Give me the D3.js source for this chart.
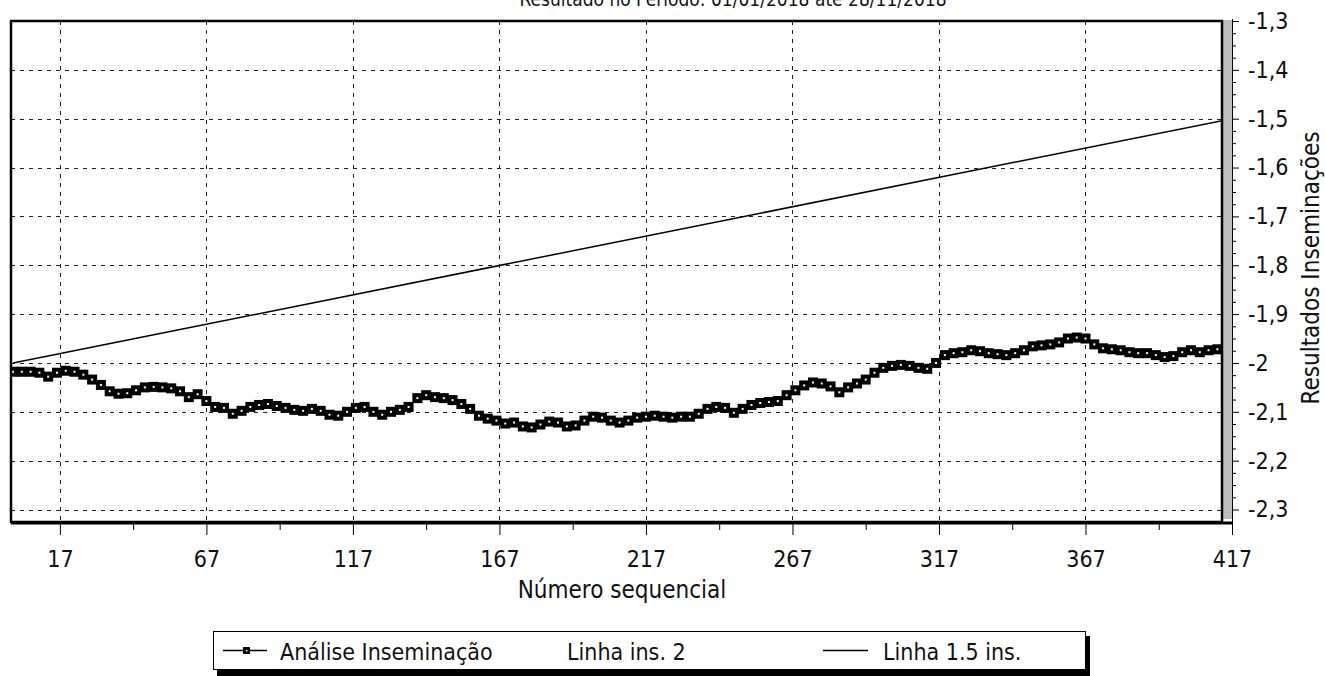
<!DOCTYPE html>
<html>
<head>
<meta charset="utf-8">
<script src="https://cdn.jsdelivr.net/npm/d3@7"></script>
<style>
    body { margin: 0; background: #fff; }
    svg text { font-family: "DejaVu Sans Condensed", "DejaVu Sans", sans-serif; fill: #111; }
</style>
</head>
<body>
<div id="chart-area"></div>
<script>
// chart values
var chartTitle = "Resultado no Período: 01/01/2018 até 28/11/2018";
var xTickValues = [17, 67, 117, 167, 217, 267, 317, 367, 417];
var yTickValues = [-1.3, -1.4, -1.5, -1.6, -1.7, -1.8, -1.9, -2.0, -2.1, -2.2, -2.3];

// sequence numbers sampled every 3rd insemination
var seqNumbers = d3.range(1, 416, 3);
var analiseValues = [
    -2.018, -2.018, -2.018, -2.020, -2.028, -2.020, -2.016, -2.018, -2.024, -2.034,
    -2.045, -2.058, -2.063, -2.062, -2.056, -2.050, -2.049, -2.050, -2.052, -2.058,
    -2.070, -2.064, -2.078, -2.090, -2.092, -2.104, -2.098, -2.090, -2.086, -2.084,
    -2.088, -2.092, -2.096, -2.098, -2.094, -2.098, -2.106, -2.108, -2.100, -2.092,
    -2.090, -2.100, -2.106, -2.100, -2.096, -2.090, -2.072, -2.066, -2.070, -2.072,
    -2.076, -2.084, -2.094, -2.108, -2.114, -2.118, -2.124, -2.122, -2.130, -2.132,
    -2.126, -2.120, -2.122, -2.130, -2.128, -2.118, -2.110, -2.112, -2.118, -2.122,
    -2.118, -2.112, -2.110, -2.108, -2.110, -2.112, -2.110, -2.110, -2.104, -2.094,
    -2.090, -2.092, -2.102, -2.094, -2.086, -2.082, -2.080, -2.078, -2.066, -2.056,
    -2.046, -2.040, -2.042, -2.048, -2.060, -2.050, -2.042, -2.034, -2.020, -2.010,
    -2.006, -2.004, -2.006, -2.010, -2.012, -2.000, -1.984, -1.980, -1.978, -1.974,
    -1.976, -1.980, -1.982, -1.984, -1.980, -1.974, -1.966, -1.964, -1.962, -1.958,
    -1.950, -1.948, -1.950, -1.962, -1.970, -1.972, -1.974, -1.978, -1.980, -1.980,
    -1.984, -1.988, -1.986, -1.978, -1.974, -1.978, -1.974, -1.972, -1.976
];

var linhaSeq = [1, 417];
var linhaValues = [-2.0, -1.5];

var legendLabels = ["Análise Inseminação", "Linha ins. 2", "Linha 1.5 ins."];


InseminationChart = function(_parentElement) {
    this.parentElement = _parentElement;
    this.initVis();
};

InseminationChart.prototype.initVis = function() {
    var vis = this;

    vis.width = 1325;
    vis.height = 676;

    // plot frame (the grey strip sits at the right of the frame)
    vis.frame = { left: 11, top: 21, right: 1222, strip: 1232, bottom: 522 };

    vis.svg = d3.select("#" + vis.parentElement).append("svg")
        .attr("width", vis.width)
        .attr("height", vis.height);

    vis.x = d3.scaleLinear()
        .domain([1, 417])
        .range([13, 1232]);

    vis.y = d3.scaleLinear()
        .domain([-2.3, -1.3])
        .range([509.5, 21]);

    vis.data = seqNumbers.map(function(s, i) {
        return { seq: s, value: analiseValues[i] };
    });
    vis.linha = linhaSeq.map(function(s, i) {
        return { seq: s, value: linhaValues[i] };
    });

    vis.updateVis();
};

InseminationChart.prototype.updateVis = function() {
    var vis = this;
    var f = vis.frame;

    // title (cut off at the top of the page)
    vis.svg.append("text")
        .attr("x", 733)
        .attr("y", 6)
        .attr("text-anchor", "middle")
        .attr("font-size", 19)
        .text(chartTitle);

    // grid
    var grid = vis.svg.append("g")
        .attr("stroke", "#222")
        .attr("stroke-width", 1)
        .attr("stroke-dasharray", "4,5");

    grid.selectAll(".h-grid")
        .data(yTickValues.filter(function(d) { return d < -1.35; }))
        .enter().append("line")
        .attr("class", "h-grid")
        .attr("x1", f.left)
        .attr("x2", f.right)
        .attr("y1", d => Math.round(vis.y(d)) + 0.5)
        .attr("y2", d => Math.round(vis.y(d)) + 0.5);

    grid.selectAll(".v-grid")
        .data(xTickValues.filter(function(d) { return d < 400; }))
        .enter().append("line")
        .attr("class", "v-grid")
        .attr("x1", d => Math.round(vis.x(d)) + 0.5)
        .attr("x2", d => Math.round(vis.x(d)) + 0.5)
        .attr("y1", f.top)
        .attr("y2", f.bottom);

    // clip marks to the plot
    vis.svg.append("clipPath")
        .attr("id", "plot-clip")
        .append("rect")
        .attr("x", f.left)
        .attr("y", f.top)
        .attr("width", f.right - f.left)
        .attr("height", f.bottom - f.top);

    var plot = vis.svg.append("g")
        .attr("clip-path", "url(#plot-clip)");

    var line = d3.line()
        .x(d => vis.x(d.seq))
        .y(d => vis.y(d.value));

    // Linha 1.5 ins.
    plot.append("path")
        .datum(vis.linha)
        .attr("fill", "none")
        .attr("stroke", "#000")
        .attr("stroke-width", 1.5)
        .attr("d", line);

    // Análise Inseminação
    plot.append("path")
        .datum(vis.data)
        .attr("fill", "none")
        .attr("stroke", "#000")
        .attr("stroke-width", 1.2)
        .attr("d", line);

    var marks = plot.selectAll(".mark")
        .data(vis.data)
        .enter().append("g")
        .attr("class", "mark")
        .attr("transform", d => `translate(${vis.x(d.seq)},${vis.y(d.value)})`);

    marks.append("rect")
        .attr("x", -5).attr("y", -5)
        .attr("width", 10).attr("height", 10)
        .attr("fill", "#000");

    marks.append("rect")
        .attr("x", -1).attr("y", -1)
        .attr("width", 2).attr("height", 2)
        .attr("fill", "#fff");

    // grey strip at the right side of the plot
    vis.svg.append("rect")
        .attr("x", f.right)
        .attr("y", f.top - 1)
        .attr("width", f.strip - f.right)
        .attr("height", f.bottom - f.top - 2)
        .attr("fill", "#bdbdbd");

    // frame
    vis.svg.append("rect")
        .attr("x", f.left)
        .attr("y", f.top)
        .attr("width", f.right - f.left)
        .attr("height", f.bottom - f.top)
        .attr("fill", "none")
        .attr("stroke", "#000")
        .attr("stroke-width", 2.5);

    vis.svg.append("line")
        .attr("x1", f.left).attr("x2", f.strip + 1)
        .attr("y1", f.bottom + 1).attr("y2", f.bottom + 1)
        .attr("stroke", "#000")
        .attr("stroke-width", 3);

    vis.svg.append("line")
        .attr("x1", f.strip + 0.5).attr("x2", f.strip + 0.5)
        .attr("y1", f.top - 2).attr("y2", f.bottom)
        .attr("stroke", "#000")
        .attr("stroke-width", 1);

    // x axis
    var xAxis = d3.axisBottom(vis.x)
        .tickValues(xTickValues)
        .tickSize(11)
        .tickPadding(16);

    var xAxisG = vis.svg.append("g")
        .attr("transform", `translate(0,${f.bottom + 2})`)
        .call(xAxis);
    xAxisG.select(".domain").remove();
    xAxisG.selectAll("text").attr("font-size", 23).attr("font-family", null).attr("fill", "#111");

    var xMinor = d3.axisBottom(vis.x)
        .tickValues(xTickValues.slice(0, -1).map(d => d + 25))
        .tickSize(6)
        .tickFormat("");
    vis.svg.append("g")
        .attr("transform", `translate(0,${f.bottom + 2})`)
        .call(xMinor)
        .select(".domain").remove();

    // y axis on the right
    var yFormat = function(d) {
        return String(+d.toFixed(1)).replace(".", ",");
    };

    var yAxis = d3.axisRight(vis.y)
        .tickValues(yTickValues)
        .tickSize(7)
        .tickPadding(9)
        .tickFormat(yFormat);

    var yAxisG = vis.svg.append("g")
        .attr("transform", `translate(${f.strip},0)`)
        .call(yAxis);
    yAxisG.select(".domain").remove();
    yAxisG.selectAll("text").attr("font-size", 23).attr("font-family", null).attr("fill", "#111");

    var minorY = d3.range(0, 41).map(i => -2.3 + i * 0.025)
        .filter(d => Math.abs(d * 10 - Math.round(d * 10)) > 0.01);
    var yMinor = d3.axisRight(vis.y)
        .tickValues(minorY)
        .tickSize(4)
        .tickFormat("");
    vis.svg.append("g")
        .attr("transform", `translate(${f.strip},0)`)
        .call(yMinor)
        .select(".domain").remove();

    // axis titles
    vis.svg.append("text")
        .attr("x", 622)
        .attr("y", 598)
        .attr("text-anchor", "middle")
        .attr("font-size", 24)
        .text("Número sequencial");

    vis.svg.append("text")
        .attr("transform", "translate(1319,268) rotate(-90)")
        .attr("text-anchor", "middle")
        .attr("font-size", 24)
        .text("Resultados Inseminações");

    // legend
    var lg = vis.svg.append("g").attr("class", "legend");

    lg.append("rect")
        .attr("x", 217).attr("y", 636)
        .attr("width", 873).attr("height", 40)
        .attr("fill", "#000");
    lg.append("rect")
        .attr("x", 213.5).attr("y", 631.5)
        .attr("width", 872).attr("height", 38)
        .attr("fill", "#fff")
        .attr("stroke", "#000")
        .attr("stroke-width", 1);

    lg.append("line")
        .attr("x1", 223).attr("x2", 267)
        .attr("y1", 650.5).attr("y2", 650.5)
        .attr("stroke", "#000").attr("stroke-width", 1.5);
    lg.append("rect")
        .attr("x", 243).attr("y", 647)
        .attr("width", 7).attr("height", 7)
        .attr("fill", "#000");
    lg.append("rect")
        .attr("x", 246).attr("y", 650)
        .attr("width", 1.5).attr("height", 1.5)
        .attr("fill", "#fff");

    lg.append("line")
        .attr("x1", 823).attr("x2", 868)
        .attr("y1", 650.5).attr("y2", 650.5)
        .attr("stroke", "#000").attr("stroke-width", 1.5);

    lg.selectAll(".legend-text")
        .data(legendLabels)
        .enter().append("text")
        .attr("class", "legend-text")
        .attr("x", (d, i) => [280, 567, 883][i])
        .attr("y", 660)
        .attr("font-size", 23)
        .text(d => d);
};

var chart = new InseminationChart("chart-area");
</script>
</body>
</html>
